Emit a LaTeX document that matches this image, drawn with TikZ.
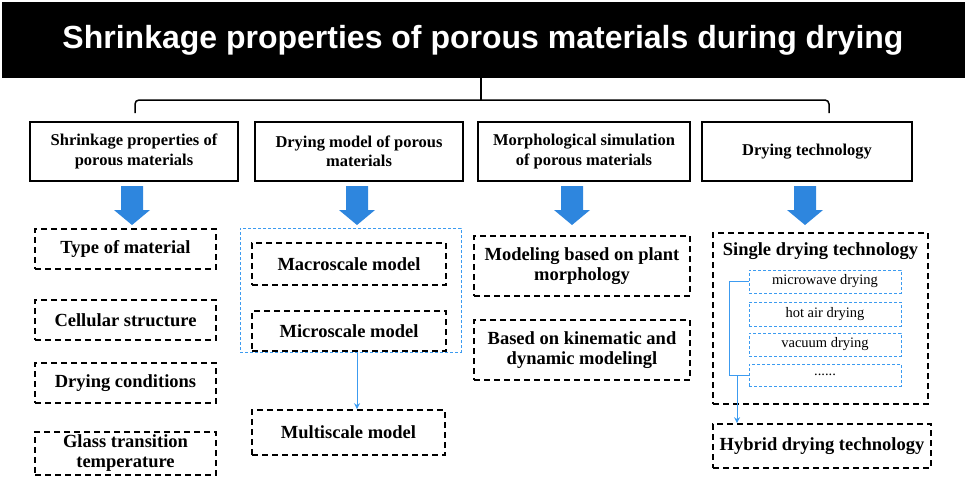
\documentclass[tikz,border=0pt]{standalone}
\usepackage{fontspec}
\setmainfont{Liberation Serif}
\newfontfamily\titlefont{Liberation Sans}
\usetikzlibrary{arrows.meta}
\definecolor{ablue}{HTML}{2E86DE}
\definecolor{lblue}{HTML}{3C9BF0}
\begin{document}
\begin{tikzpicture}[x=1pt,y=-1pt,
  catbox/.style={draw,line width=1.6pt,align=center,font=\bfseries\fontsize{16.5}{19.5}\selectfont,inner sep=0},
  dbox/.style={draw,dashed,dash pattern=on 6pt off 4pt,line width=1.6pt,align=center,font=\bfseries\fontsize{18.5}{20}\selectfont,inner sep=0},
  ibox/.style={draw=lblue,dashed,dash pattern=on 3pt off 2pt,line width=0.9pt,font=\fontsize{14.5}{16}\selectfont,inner sep=0},
  bigarrow/.style={fill=ablue,draw=none}]
\useasboundingbox (0,0) rectangle (969,482);
\fill[black] (2,2) rectangle (965,78);
\node (title) at (483,40) {\titlefont\bfseries\fontsize{32}{36}\selectfont\color{white}Shrinkage properties of porous materials during drying};
% brace
\coordinate (bt) at (481,78);
\coordinate (bl) at (135,113);
\coordinate (br) at (829,113);
\draw[line width=1.5pt,rounded corners=4pt] (bl) -- (135,100) -- (829,100) -- (br);
\draw[line width=1.5pt] (bt) -- (481,100);
% category boxes
\node[catbox,minimum width=208,minimum height=59] (c1) at (134,151.5) {Shrinkage properties of\\porous materials};
\node[catbox,minimum width=208,minimum height=59] (c2) at (359,151.5) {Drying model of porous\\materials};
\node[catbox,minimum width=212,minimum height=59] (c3) at (584,151.5) {Morphological simulation\\of porous materials};
\node[catbox,minimum width=210,minimum height=59] (c4) at (807,151.5) {Drying technology};
% blue arrows
\foreach \x in {132,357,572,805}{
  \fill[bigarrow] (\x-11,186) -- (\x+11,186) -- (\x+11,210) -- (\x+18,210) -- (\x,225) -- (\x-18,210) -- (\x-11,210) -- cycle;}
% column 1
\node[dbox,minimum width=181,minimum height=40] (a1) at (125.5,249) {Type of material};
\node[dbox,minimum width=181,minimum height=40] (a2) at (125.5,320) {Cellular structure};
\node[dbox,minimum width=181,minimum height=40] (a3) at (125.5,383) {Drying conditions};
\node[dbox,minimum width=181,minimum height=43] (a4) at (125.5,453.5) {Glass transition\\temperature};
% column 2
\node[draw=lblue,dashed,dash pattern=on 3pt off 2pt,line width=0.9pt,minimum width=221,minimum height=124,inner sep=0] (grp) at (350.5,290) {};
\node[dbox,minimum width=194,minimum height=42] (b1) at (349,264) {Macroscale model};
\node[dbox,minimum width=194,minimum height=40] (b2) at (349,331) {Microscale model};
\node[dbox,minimum width=193,minimum height=45] (b3) at (348.5,432.5) {Multiscale model};
\draw[lblue,line width=1pt,-{Stealth[length=6pt,width=6pt]}] (grp.south -| 357,0) -- (b3.north -| 357,0);
% column 3
\node[dbox,minimum width=216,minimum height=60] (m1) at (582,266) {Modeling based on plant\\morphology};
\node[dbox,minimum width=216,minimum height=60] (m2) at (582,350) {Based on kinematic and\\dynamic modelingl};
% column 4
\node[dbox,minimum width=215,minimum height=171] (s) at (820.5,318.5) {};
\node[font=\bfseries\fontsize{18.5}{20}\selectfont,anchor=north] (stitle) at (820.5,239) {Single drying technology};
\node[ibox,minimum width=152,minimum height=23] (i1) at (825,281.5) {microwave drying};
\node[ibox,minimum width=152,minimum height=24] (i2) at (825,314) {hot air drying};
\node[ibox,minimum width=152,minimum height=23] (i3) at (825,344.5) {vacuum drying};
\node[ibox,minimum width=152,minimum height=22] (i4) at (825,375) {......};
\node[dbox,minimum width=218,minimum height=44] (h) at (822,446) {Hybrid drying technology};
\draw[lblue,line width=1pt] (i1.west) -- (729,281.5) -- (729,375) -- (i4.west);
\draw[lblue,line width=1pt,-{Stealth[length=6pt,width=6pt]}] (737,375) -- (h.north -| 737,0);
\end{tikzpicture}
\end{document}
